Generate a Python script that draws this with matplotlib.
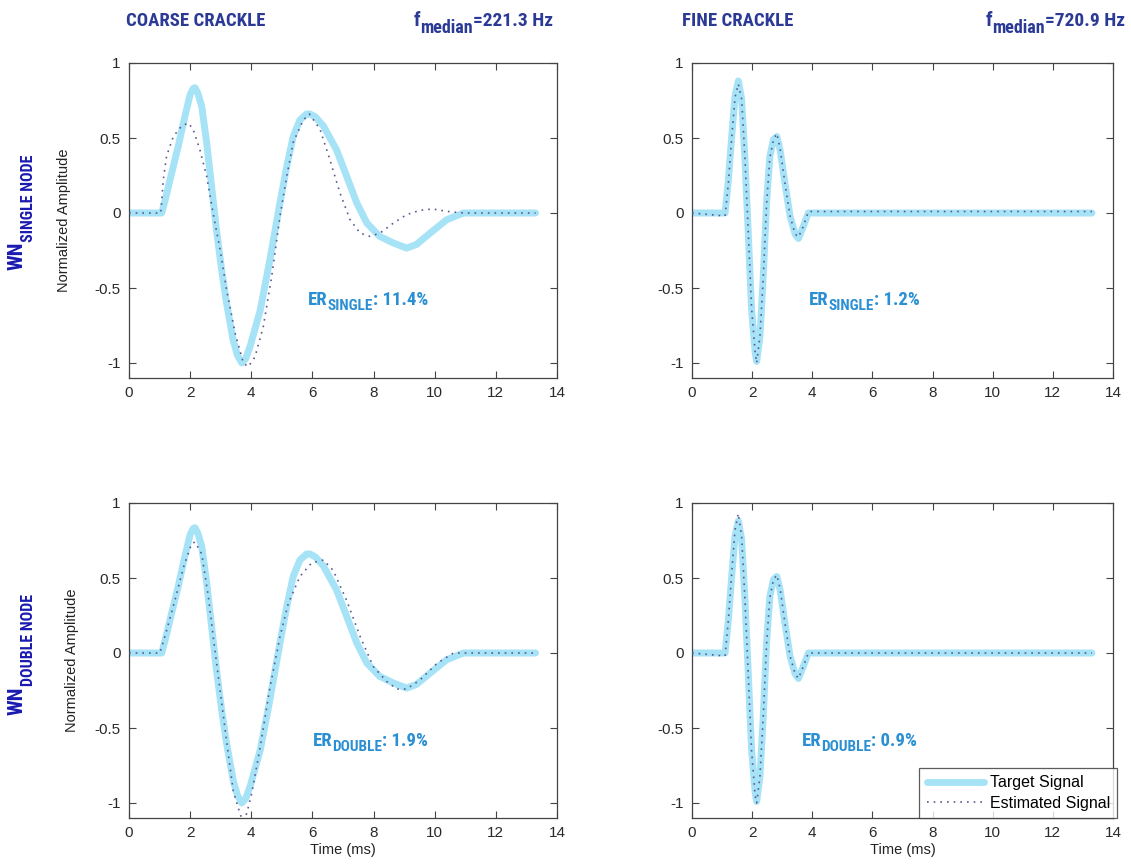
import matplotlib
matplotlib.use("Agg")
import matplotlib.pyplot as plt
from matplotlib import font_manager
from matplotlib.transforms import IdentityTransform

# ---------------- data ----------------
coarse_t = [0, 1.07, 1.2, 1.34, 1.61, 1.83, 2.0, 2.1, 2.16, 2.25, 2.38, 2.54, 2.7, 2.86, 3.03, 3.19, 3.41,
            3.55, 3.69, 3.82, 3.96, 4.29, 4.61, 4.94, 5.16, 5.37, 5.59, 5.81, 5.92, 6.1, 6.36, 6.79, 7.12,
            7.45, 7.78, 8.2, 8.65, 9.08, 9.4, 9.85, 10.39, 10.94, 13.3]
coarse_target = [0, 0, 0.1, 0.22, 0.445, 0.646, 0.79, 0.83, 0.835, 0.8, 0.71, 0.47, 0.18, -0.11, -0.38,
                 -0.6, -0.85, -0.95, -1.0, -0.97, -0.89, -0.65, -0.31, 0.07, 0.31, 0.51, 0.62, 0.66, 0.66,
                 0.64, 0.58, 0.42, 0.245, 0.067, -0.067, -0.156, -0.2, -0.234, -0.21, -0.134, -0.045, 0, 0]

coarse_single_t = [0, 1.04, 1.12, 1.23, 1.45, 1.72, 1.94, 2.1, 2.32, 2.54, 2.75, 2.98, 3.19, 3.47, 3.74,
                   3.9, 4.12, 4.39, 4.67, 4.94, 5.16, 5.37, 5.7, 5.9, 6.25, 6.57, 6.9, 7.23, 7.56, 7.88,
                   8.21, 8.65, 9.08, 9.52, 9.94, 10.39, 10.94, 13.3]
coarse_single_est = [0, 0, 0.22, 0.38, 0.51, 0.58, 0.6, 0.557, 0.42, 0.245, 0, -0.245, -0.51, -0.8, -1.0,
                     -1.025, -0.96, -0.76, -0.42, -0.02, 0.245, 0.47, 0.62, 0.66, 0.557, 0.356, 0.134,
                     -0.045, -0.134, -0.156, -0.134, -0.067, -0.011, 0.018, 0.027, 0.011, 0, 0]

coarse_double_t = [0, 1.01, 1.23, 1.5, 1.78, 2.05, 2.16, 2.38, 2.6, 2.76, 2.98, 3.2, 3.41, 3.63, 3.72,
                   3.85, 4.01, 4.29, 4.61, 4.94, 5.21, 5.59, 5.97, 6.36, 6.68, 7.12, 7.56, 7.99, 8.43,
                   8.76, 9.08, 9.52, 10.07, 10.61, 13.3]
coarse_double_est = [0, 0, 0.15, 0.35, 0.57, 0.73, 0.74, 0.66, 0.37, 0.1, -0.25, -0.6, -0.92, -1.07,
                     -1.12, -1.07, -0.94, -0.63, -0.23, 0.11, 0.33, 0.51, 0.6, 0.62, 0.55, 0.35, 0.11,
                     -0.09, -0.19, -0.24, -0.24, -0.18, -0.07, 0, 0]

fine_t = [0, 1.1, 1.21, 1.32, 1.43, 1.54, 1.65, 1.76, 1.87, 1.98, 2.1, 2.15, 2.26, 2.37, 2.48, 2.59,
          2.71, 2.82, 2.93, 3.09, 3.26, 3.43, 3.54, 3.7, 3.87, 13.3]
fine_target = [0, 0, 0.22, 0.51, 0.78, 0.88, 0.76, 0.36, -0.13, -0.64, -0.93, -0.99, -0.82, -0.42,
               0.07, 0.38, 0.49, 0.51, 0.42, 0.2, -0.02, -0.14, -0.17, -0.09, 0, 0]
fine_single_est = [0, -0.02, 0.2, 0.5, 0.77, 0.86, 0.76, 0.37, -0.12, -0.63, -0.93, -1.0, -0.82, -0.43,
                   0.06, 0.37, 0.49, 0.53, 0.43, 0.2, -0.02, -0.14, -0.16, -0.09, 0.01, 0.01]
fine_double_est = [0, -0.02, 0.22, 0.53, 0.82, 0.93, 0.78, 0.36, -0.14, -0.65, -0.95, -1.0, -0.82, -0.42,
                   0.06, 0.37, 0.49, 0.52, 0.43, 0.2, -0.02, -0.14, -0.17, -0.09, 0.0, 0.0]

col_titles = ["COARSE CRACKLE", "FINE CRACKLE"]
f_medians = ["221.3", "720.9"]
row_labels = ["SINGLE NODE", "DOUBLE NODE"]
er_subs = ["SINGLE", "DOUBLE"]
er_values = [["11.4%", "1.2%"], ["1.9%", "0.9%"]]
legend_labels = ["Target Signal", "Estimated Signal"]
xticks = [0, 2, 4, 6, 8, 10, 12, 14]
yticks = [-1, -0.5, 0, 0.5, 1]
ytick_labels = ["-1", "-0.5", "0", "0.5", "1"]

# ---------------- style ----------------
plt.rcParams["font.family"] = ["Liberation Sans", "DejaVu Sans"]
narrow_kw = {"family": ["Liberation Sans", "DejaVu Sans"]}
names = {f.name for f in font_manager.fontManager.ttflist}
for cand in ["Liberation Sans Narrow", "Arial Narrow", "Roboto Condensed", "Open Sans Condensed"]:
    if cand in names:
        narrow_kw = {"family": [cand, "DejaVu Sans"]}
        break
else:
    if any(f.name == "DejaVu Sans" and f.stretch == "condensed" and f.weight == "bold"
           for f in font_manager.fontManager.ttflist):
        narrow_kw = {"family": ["DejaVu Sans"], "fontstretch": "condensed"}

TARGET_C = "#a6e3f7"
EST_C = "#5a5a92"
TITLE_C = "#2b3a96"
ROW_C = "#1a1ab0"
ER_C = "#2a8fd3"

W, H = 1131, 868
fig = plt.figure(figsize=(W / 100, H / 100), dpi=100)
renderer = fig.canvas.get_renderer()


def compose(x0, y0, pieces, rotation=0, **kw):
    """Place text pieces one after another (display pixels). pieces: (text, size, drop_px)."""
    texts = []
    adv = 0.0
    for s, size, drop in pieces:
        if rotation == 0:
            x, y = x0 + adv, y0 - drop
        else:
            x, y = x0 + drop, y0 + adv
        t = fig.text(x, y, s, transform=IdentityTransform(), fontsize=size, rotation=rotation,
                     rotation_mode="anchor", ha="left", va="baseline", **kw)
        bb = t.get_window_extent(renderer)
        adv += bb.width if rotation == 0 else bb.height
        texts.append(t)
    return texts, adv


lefts = [129, 692]
widths = [428, 421]
tops = [63, 503]
hgt = 315

series = [
    [(coarse_t, coarse_target, coarse_single_t, coarse_single_est), (fine_t, fine_target, fine_t, fine_single_est)],
    [(coarse_t, coarse_target, coarse_double_t, coarse_double_est), (fine_t, fine_target, fine_t, fine_double_est)],
]
er_pos = [[(5.85, -0.613), (3.9, -0.613)], [(6.01, -0.617), (3.65, -0.617)]]
ylabel_x = [-0.136, -0.117]

for r in range(2):
    for c in range(2):
        ax = fig.add_axes([lefts[c] / W, 1 - (tops[r] + hgt) / H, widths[c] / W, hgt / H])
        tt, ty, et, ey = series[r][c]
        lt, = ax.plot(tt, ty, color=TARGET_C, lw=5, solid_joinstyle="round", solid_capstyle="round",
                      label=legend_labels[0], zorder=2)
        le, = ax.plot(et, ey, color=EST_C, lw=1.2, linestyle=(0, (1, 3)), label=legend_labels[1], zorder=3)
        ax.set_xlim(0, 14)
        ax.set_ylim(-1.1, 1)
        ax.set_xticks(xticks)
        ax.set_yticks(yticks)
        ax.set_yticklabels(ytick_labels)
        ax.tick_params(direction="in", top=True, right=True, length=5, width=0.8,
                       labelsize=11, colors="#444444", labelcolor="#2a2a2a", pad=6)
        for s in ax.spines.values():
            s.set_color("#444444")
            s.set_linewidth(0.9)
        if c == 0:
            ax.set_ylabel("Normalized Amplitude", fontsize=10.5, color="#222222")
            ax.yaxis.set_label_coords(ylabel_x[r], 0.5)
        if r == 1:
            ax.set_xlabel("Time (ms)", fontsize=10.5, color="#222222", labelpad=2)
        if r == 1 and c == 1:
            leg = ax.legend(handles=[lt, le], loc="lower right", fontsize=11.5, frameon=True,
                            fancybox=False, edgecolor="#333333", handlelength=3.6, borderaxespad=0,
                            borderpad=0.45, labelspacing=0.35, handletextpad=0.35,
                            bbox_to_anchor=(1.01, 0))
            leg.get_frame().set_linewidth(0.9)
            leg.set_zorder(5)
        # ER annotation
        ex, eyv = er_pos[r][c]
        dx, dy = ax.transData.transform((ex, eyv))
        compose(dx, dy, [("ER", 13.5, 0), (er_subs[r], 11, 5.5), (": " + er_values[r][c], 13.5, 0)],
                color=ER_C, fontweight="bold", **narrow_kw)

# column titles
title_cx = [196, 738]
fmed_right = [553, 1125]
for c in range(2):
    fig.text(title_cx[c], H - 26, col_titles[c], transform=IdentityTransform(), color=TITLE_C,
             fontsize=13.5, fontweight="bold", ha="center", va="baseline", **narrow_kw)
    texts, total = compose(0, H - 26, [("f", 14.5, 0), ("median", 13, 7),
                                       ("=" + f_medians[c] + " Hz", 14, 0)],
                           color=TITLE_C, fontweight="bold", **narrow_kw)
    for t in texts:
        x, y = t.get_position()
        t.set_position((x + fmed_right[c] - total, y))

# row labels (rotated)
row_start = [270, 715]
for r in range(2):
    compose(23, H - row_start[r], [("WN", 15, 0), (row_labels[r], 11.5, 10)], rotation=90,
            color=ROW_C, fontweight="bold", **narrow_kw)

fig.savefig("out.png", dpi=100, facecolor="white")
